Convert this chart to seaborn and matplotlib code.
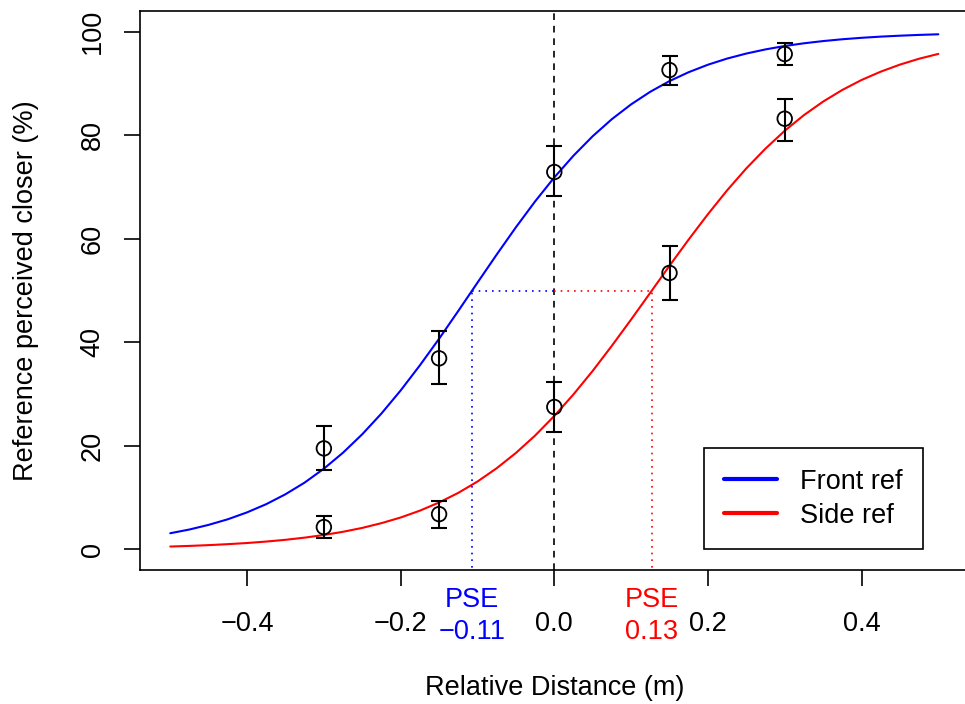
import matplotlib
matplotlib.use("Agg")
import matplotlib.pyplot as plt
import numpy as np
import pandas as pd
import seaborn as sns

# fitted psychometric curves
curve_x = [-0.500, -0.475, -0.450, -0.425, -0.400, -0.375, -0.350, -0.325, -0.300, -0.275,
           -0.250, -0.225, -0.200, -0.175, -0.150, -0.125, -0.100, -0.075, -0.050, -0.025,
           0.000, 0.025, 0.050, 0.075, 0.100, 0.125, 0.150, 0.175, 0.200, 0.225,
           0.250, 0.275, 0.300, 0.325, 0.350, 0.375, 0.400, 0.425, 0.450, 0.475, 0.500]
front_curve = [3.11, 3.83, 4.73, 5.81, 7.14, 8.73, 10.64, 12.90, 15.58, 18.68,
               22.24, 26.25, 30.70, 35.55, 40.68, 46.06, 51.53, 56.95, 62.22, 67.22,
               71.85, 76.06, 79.82, 83.12, 85.97, 88.41, 90.47, 92.19, 93.63, 94.82,
               95.79, 96.59, 97.25, 97.77, 98.20, 98.55, 98.83, 99.06, 99.24, 99.39, 99.51]
side_curve = [0.54, 0.66, 0.81, 1.00, 1.22, 1.50, 1.84, 2.26, 2.77, 3.39,
              4.14, 5.06, 6.15, 7.47, 9.05, 10.91, 13.10, 15.67, 18.62, 21.98,
              25.77, 29.94, 34.48, 39.34, 44.40, 49.58, 54.79, 59.87, 64.75, 69.36,
              73.60, 77.43, 80.87, 83.89, 86.51, 88.76, 90.68, 92.29, 93.65, 94.79, 95.72]

# observed proportions with error bars
obs_x = [-0.3, -0.15, 0.0, 0.15, 0.3]
front_obs = [19.5, 36.9, 72.9, 92.6, 95.7]
front_lo = [15.3, 31.9, 68.3, 89.7, 93.6]
front_hi = [23.8, 42.2, 78.0, 95.4, 97.9]
side_obs = [4.3, 6.8, 27.5, 53.4, 83.2]
side_lo = [2.1, 4.1, 22.6, 48.2, 78.9]
side_hi = [6.4, 9.3, 32.3, 58.6, 87.0]

pse_front = -0.107
pse_side = 0.127
pse_values = ["\u22120.11", "0.13"]

sns.set_style("ticks", {'text.color': 'black', 'axes.labelcolor': 'black',
                        'xtick.color': 'black', 'ytick.color': 'black', 'axes.edgecolor': 'black'})
plt.rcParams['font.family'] = ['Liberation Sans', 'DejaVu Sans']
FS = 19.5

fig = plt.figure(figsize=(9.65, 7.04), dpi=100)
ax = fig.add_axes([0.1446, 0.1903, 0.8596, 0.794])

curves = pd.DataFrame({'x': curve_x * 2,
                       'y': front_curve + side_curve,
                       'ref': ['Front ref'] * len(curve_x) + ['Side ref'] * len(curve_x)})
sns.lineplot(data=curves, x='x', y='y', hue='ref', palette={'Front ref': 'blue', 'Side ref': 'red'},
             linewidth=1.5, ax=ax)

# reference lines
ax.axvline(0, color='black', linestyle=(0, (4, 3.5)), linewidth=1.2, zorder=1)
dot = (0, (1, 3))
ax.plot([pse_front, 0], [50, 50], color='blue', linestyle=dot, linewidth=1.2)
ax.plot([pse_front, pse_front], [-10, 50], color='blue', linestyle=dot, linewidth=1.2)
ax.plot([0, pse_side], [50, 50], color='red', linestyle=dot, linewidth=1.2)
ax.plot([pse_side, pse_side], [-10, 50], color='red', linestyle=dot, linewidth=1.2)

for obs, lo, hi in [(front_obs, front_lo, front_hi), (side_obs, side_lo, side_hi)]:
    obs = np.array(obs)
    yerr = [obs - np.array(lo), np.array(hi) - obs]
    ax.errorbar(obs_x, obs, yerr=yerr, fmt='none', ecolor='black', elinewidth=1.5,
                capsize=6, capthick=1.5, zorder=3)
    sns.scatterplot(x=obs_x, y=obs, marker='o', s=110, facecolor='none', edgecolor='black',
                    linewidth=1.3, ax=ax, zorder=4, legend=False)

ax.set_xlim(-0.54, 0.54)
ax.set_ylim(-4, 104)
ax.set_xticks([-0.4, -0.2, 0.0, 0.2, 0.4])
ax.set_xticklabels(['\u22120.4', '\u22120.2', '0.0', '0.2', '0.4'])
ax.set_yticks([0, 20, 40, 60, 80, 100])
ax.set_yticklabels(['0', '20', '40', '60', '80', '100'], rotation=90, va='center')
ax.tick_params(axis='both', length=11.5, width=1.2, labelsize=FS)
ax.tick_params(axis='x', pad=18)
ax.tick_params(axis='y', pad=13)
for sp in ax.spines.values():
    sp.set_linewidth(1.2)

ax.set_xlabel('Relative Distance (m)', fontsize=FS)
ax.xaxis.set_label_coords(0.5, -0.188)
ax.set_ylabel('Reference perceived closer (%)', fontsize=FS)
ax.yaxis.set_label_coords(-0.1215, 0.5)

# PSE annotations below the axis
for xv, val, col in [(pse_front, pse_values[0], 'blue'), (pse_side, pse_values[1], 'red')]:
    ax.text(xv, -11.2, 'PSE', color=col, ha='center', va='baseline', fontsize=FS)
    ax.text(xv, -17.4, val, color=col, ha='center', va='baseline', fontsize=FS)

handles, labels = ax.get_legend_handles_labels()
leg = ax.legend(handles[:2], ['Front ref', 'Side ref'], loc='lower right',
                bbox_to_anchor=(0.9445, 0.0376), frameon=True, fancybox=False,
                edgecolor='black', framealpha=1, fontsize=FS, handlelength=1.95,
                handletextpad=0.85, borderpad=0.75, labelspacing=0.3, borderaxespad=0)
leg.get_frame().set_linewidth(1.2)
for line in leg.get_lines():
    line.set_linewidth(3)

fig.savefig('out.png', dpi=100)
